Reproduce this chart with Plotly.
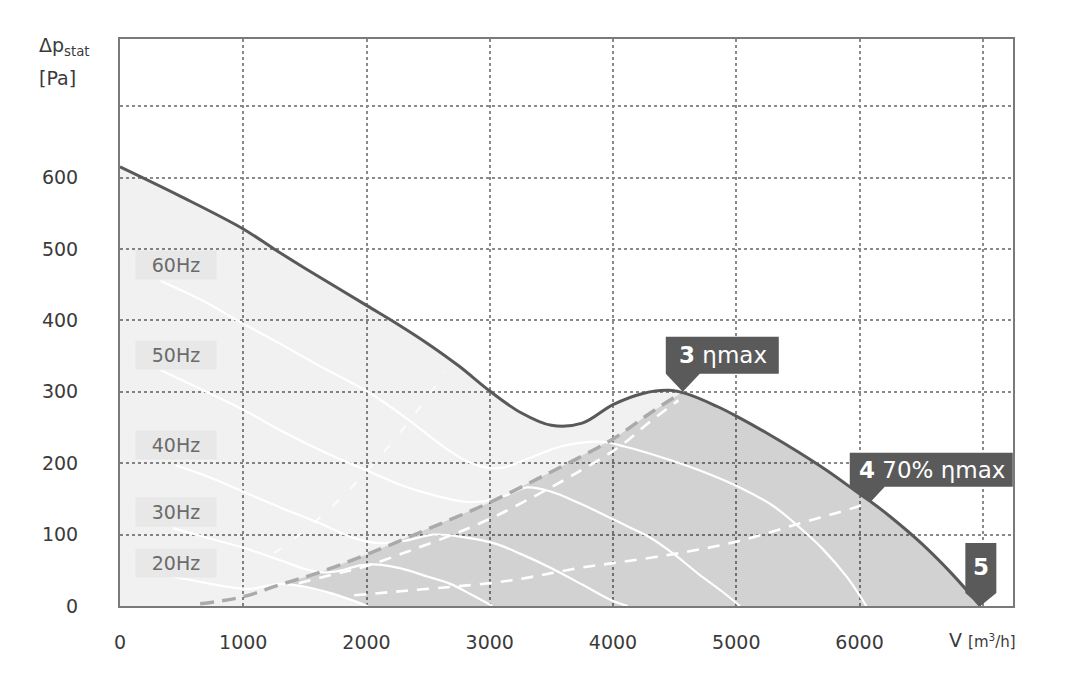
import plotly.graph_objects as go

# envelope curve (max speed)
flow = [0, 500, 1000, 1250, 1500, 2000, 2250, 2500, 2750, 3000, 3250, 3500, 3750, 4000,
        4250, 4450, 4600, 4850, 5000, 5250, 5500, 5750, 6000, 6100, 6250, 6500, 6750, 6980]
pressure = [615, 573, 528, 500, 473, 421, 395, 367, 336, 301, 271, 253, 256, 282,
            298, 302, 297, 279, 266, 242, 216, 188, 157, 145, 125, 88, 45, 0]

# speed curves
q60 = [330, 700, 950, 1250, 1600, 2030, 2330, 2650, 2850, 3080, 3350, 3570, 3900, 4100,
       4380, 4700, 5040, 5300, 5500, 5700, 5900, 6055]
p60 = [455, 425, 400, 372, 338, 298, 262, 220, 200, 193, 209, 223, 230, 223,
       209, 190, 165, 140, 112, 80, 40, 0]
q50 = [330, 700, 1030, 1300, 1700, 2000, 2300, 2550, 2800, 3000, 3150, 3300, 3500, 3700,
       3900, 4100, 4300, 4500, 4700, 4880, 5030]
p50 = [330, 300, 272, 246, 212, 190, 168, 155, 146, 148, 156, 166, 160, 146,
       130, 113, 96, 72, 44, 21, 0]
q40 = [450, 700, 1030, 1300, 1620, 1900, 2100, 2300, 2550, 2800, 3050, 3250, 3500, 3750, 4000, 4120]
p40 = [197, 182, 158, 138, 116, 95, 88, 91, 100, 96, 87, 73, 53, 30, 7, 0]
q30 = [430, 700, 1030, 1300, 1500, 1650, 1800, 1950, 2100, 2270, 2500, 2680, 2850, 3020]
p30 = [109, 96, 80, 64, 52, 47, 50, 57, 58, 53, 41, 31, 16, 0]
q20 = [330, 580, 870, 1050, 1300, 1500, 1730, 2010]
p20 = [44, 36, 27, 24, 31, 27, 17, 0]

# dashed lines
eta_q = [650, 1000, 1300, 1600, 2000, 2500, 3000, 3500, 4000, 4300, 4566]
eta_p = [3, 13, 30, 46, 72, 108, 145, 188, 234, 270, 300]
upper_q = [1450, 1750, 2000, 2330, 2700, 3000, 3300, 3650, 4050, 4300, 4530]
upper_p = [32, 45, 56, 76, 100, 122, 148, 181, 223, 258, 288]
lower_q = [1900, 2300, 2700, 3000, 3250, 3500, 3750, 4000, 4500, 5000, 5500, 6000, 6091]
lower_p = [15, 21, 27, 32, 38, 46, 54, 60, 73, 90, 115, 140, 146]
sys_q = [1250, 1450, 1650, 1850, 2050, 2250, 2450, 2640]
sys_p = [74, 99, 128, 161, 198, 238, 282, 328]

hz_labels = ["60Hz", "50Hz", "40Hz", "30Hz", "20Hz"]
hz_label_p = [478, 351, 225, 132, 60]

callout_text = ["<b>3</b> ηmax", "<b>4</b> 70% ηmax", "<b>5</b>"]
callout_q = [4566, 6091, 6980]
callout_p = [300, 146, 0]

x_ticks = [0, 1000, 2000, 3000, 4000, 5000, 6000, 7000]
y_ticks = [0, 100, 200, 300, 400, 500, 600, 700]

fig = go.Figure()

# light operating area under the envelope
fig.add_trace(go.Scatter(x=flow, y=pressure, fill="tozeroy", mode="lines",
                         line=dict(width=0), fillcolor="rgba(0,0,0,0.055)"))

# dark area right of the eta max line, above the 20Hz curve
start = 1300
poly = [(q, p) for q, p in zip(eta_q, eta_p) if q >= start]
poly += [(q, p) for q, p in zip(flow, pressure) if q > eta_q[-1]]
poly += [(q, p) for q, p in zip(q20, p20) if q >= start][::-1]
fig.add_trace(go.Scatter(x=[a for a, b in poly], y=[b for a, b in poly], fill="toself",
                         mode="lines", line=dict(width=0), fillcolor="rgba(0,0,0,0.125)"))

for qs, ps in [(q60, p60), (q50, p50), (q40, p40), (q30, p30), (q20, p20)]:
    fig.add_trace(go.Scatter(x=qs, y=ps, mode="lines", line=dict(color="white", width=2.2, shape="spline")))

fig.add_trace(go.Scatter(x=sys_q, y=sys_p, mode="lines",
                         line=dict(color="rgba(255,255,255,0.8)", width=2, dash="9px,16px", shape="spline")))
fig.add_trace(go.Scatter(x=upper_q, y=upper_p, mode="lines",
                         line=dict(color="white", width=2.6, dash="12px,9px", shape="spline")))
fig.add_trace(go.Scatter(x=lower_q, y=lower_p, mode="lines",
                         line=dict(color="white", width=2.6, dash="12px,9px", shape="spline")))
fig.add_trace(go.Scatter(x=eta_q, y=eta_p, mode="lines",
                         line=dict(color="#aaaaaa", width=3.5, dash="14px,8px", shape="spline")))

fig.add_trace(go.Scatter(x=flow, y=pressure, mode="lines",
                         line=dict(color="#595959", width=3, shape="spline")))

# callout boxes with pointers (pixel paths anchored at the curve points)
paths = [
    "M0,0 L-17,18 L-17,55 L96,55 L96,18 L17,18 Z",
    "M0,0 L-21,15 L-21,49 L142,49 L142,15 L14,15 Z",
    "M0,0 L-15,13 L-15,63 L16,63 L16,13 Z",
]
text_shift = [(40, 37), (61, 32), (0.5, 39)]
for txt, q, p, path, (dx, dy) in zip(callout_text, callout_q, callout_p, paths, text_shift):
    fig.add_shape(type="path", xref="x", yref="y", xsizemode="pixel", ysizemode="pixel",
                  xanchor=q, yanchor=p, path=path, fillcolor="#5a5a5a", line=dict(width=0),
                  layer="above")
    fig.add_annotation(x=q, y=p, xref="x", yref="y", text=txt, showarrow=False,
                       xshift=dx, yshift=dy, font=dict(family="DejaVu Sans", size=23, color="white"))

for lab, p in zip(hz_labels, hz_label_p):
    fig.add_annotation(x=455, y=p, xref="x", yref="y", text=lab, showarrow=False,
                       bgcolor="#e8e8e8", width=76, height=24, borderpad=2,
                       font=dict(family="DejaVu Sans", size=19, color="#6b6b6b"))

# axis titles (page body has an 8px offset, margins below account for it)
fig.add_annotation(x=-0.093, y=1.012, xref="paper", yref="paper", xanchor="left", showarrow=False,
                   text="Δp<sub>stat</sub>", font=dict(family="DejaVu Sans", size=19, color="#3a3a3a"))
fig.add_annotation(x=-0.093, y=0.954, xref="paper", yref="paper", xanchor="left", showarrow=False,
                   text="[Pa]", font=dict(family="DejaVu Sans", size=19, color="#3a3a3a"))
fig.add_annotation(x=7000, y=-0.083, xref="x", yref="paper", showarrow=False,
                   text="V <span style='font-size:15px'>[m<sup>3</sup>/h]</span>",
                   font=dict(family="DejaVu Sans", size=19, color="#3a3a3a"))

axis_style = dict(showgrid=True, gridcolor="#8a8a8a", gridwidth=1.5, griddash="dot",
                  showline=True, mirror=True, linecolor="#7a7a7a", linewidth=2,
                  zeroline=False, ticks="", automargin=False,
                  tickfont=dict(family="DejaVu Sans", size=19, color="#3a3a3a"))

fig.update_xaxes(range=[0, 7245], tickvals=x_ticks,
                 ticktext=[str(v) for v in x_ticks[:-1]] + [""], ticklabelstandoff=18, **axis_style)
fig.update_yaxes(range=[0, 794], tickvals=y_ticks,
                 ticktext=[str(v) for v in y_ticks[:-1]] + [""], ticklabelstandoff=36, **axis_style)

fig.update_layout(width=1070, height=691, showlegend=False, hovermode=False,
                  plot_bgcolor="white", paper_bgcolor="white",
                  margin=dict(l=112, r=65, t=31, b=93))

fig.write_html("out.html")
